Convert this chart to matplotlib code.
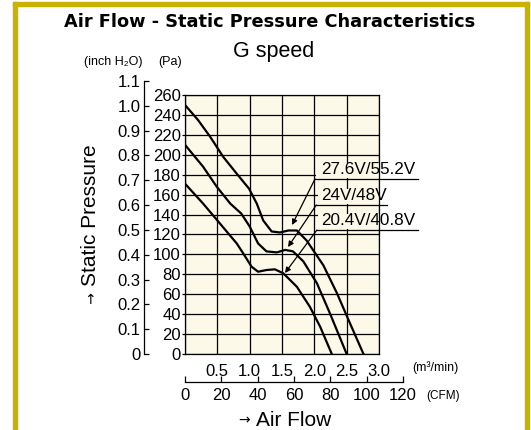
import numpy as np
import matplotlib
matplotlib.use('Agg')
import matplotlib.pyplot as plt
from matplotlib.patches import Rectangle

plt.rcParams['font.family'] = ['Liberation Sans', 'DejaVu Sans']

W, H = 531, 430

# air flow (m3/min) against static pressure (Pa)
flow_276 = [0, 0.20, 0.39, 0.59, 0.80, 0.99, 1.11, 1.21, 1.34, 1.47, 1.60, 1.73, 1.88, 2.14, 2.35, 2.55, 2.76]
pres_276 = [250, 235, 218, 198, 181, 166, 151, 134, 123, 122, 124, 124, 114, 89, 61, 31, 0]

flow_24 = [0, 0.14, 0.28, 0.49, 0.70, 0.87, 1.00, 1.13, 1.26, 1.42, 1.55, 1.67, 1.83, 2.04, 2.24, 2.50]
pres_24 = [210, 199, 188, 168, 151, 141, 128, 111, 103, 102, 104.5, 103, 93, 71, 41, 0]

flow_204 = [0, 0.14, 0.28, 0.54, 0.80, 0.90, 1.03, 1.13, 1.26, 1.39, 1.52, 1.73, 1.93, 2.09, 2.27]
pres_204 = [171, 161, 151, 131, 111, 101, 87.6, 82.6, 84.3, 85, 81, 67.5, 47.5, 27.4, 0]

labels = ['27.6V/55.2V', '24V/48V', '20.4V/40.8V']

flow_ticks = [0, 0.5, 1.0, 1.5, 2.0, 2.5, 3.0]
pa_ticks = list(range(0, 261, 20))
inch_ticks = [0, 0.1, 0.2, 0.3, 0.4, 0.5, 0.6, 0.7, 0.8, 0.9, 1.0, 1.1]
cfm_ticks = [0, 20, 40, 60, 80, 100, 120]


def fx(px):
    return px / W


def fy(py):
    return 1 - py / H


fig = plt.figure(figsize=(W / 100, H / 100), dpi=100)

# gold frame
gold = '#c8b400'
fig.patches.append(Rectangle((fx(13), 0), 4 / W, fy(2), color=gold, transform=fig.transFigure))
fig.patches.append(Rectangle((fx(525), 0), 4 / W, fy(2), color=gold, transform=fig.transFigure))
fig.patches.append(Rectangle((fx(13), fy(6)), 516 / W, 4 / H, color=gold, transform=fig.transFigure))

# main plot
cream = '#fdf9e8'
ax = fig.add_axes([fx(185), fy(354), 194 / W, 259 / H])
ax.set_facecolor(cream)
ax.set_xlim(0, 3.0)
ax.set_ylim(0, 260)
ax.set_xticks(flow_ticks)
ax.set_xticklabels([''] + [f'{v:.1f}' for v in flow_ticks[1:]])
ax.set_yticks(pa_ticks)
ax.grid(color='black', lw=0.9)
ax.set_axisbelow(True)
ax.tick_params(axis='x', length=0, pad=7, labelsize=12)
ax.tick_params(axis='y', length=2.5, width=0.9, pad=0.5, labelsize=12)
for s in ax.spines.values():
    s.set_linewidth(0.9)

for fl, pr in [(flow_276, pres_276), (flow_24, pres_24), (flow_204, pres_204)]:
    ax.plot(fl, pr, color='black', lw=1.6, solid_joinstyle='round', zorder=3)

# callouts: (arrow tip, line start, underline end)
callouts = [((1.655, 129.5), (2.01, 175.7), 3.60),
            ((1.593, 107.4), (2.03, 149.6), 3.12),
            ((1.546, 81.3), (2.04, 124.5), 3.60)]
for lab, (tip, start, x_end) in zip(labels, callouts):
    ax.add_patch(Rectangle((start[0] + 0.02, start[1] + 0.5), 1.2, 16,
                           facecolor=cream, edgecolor='none', zorder=1.5))
    ax.plot([start[0], x_end], [start[1], start[1]], color='black', lw=0.9, clip_on=False, zorder=3)
    ax.annotate('', xy=tip, xytext=start,
                arrowprops=dict(arrowstyle='-|>', color='black', lw=0.9, mutation_scale=8,
                                shrinkA=0, shrinkB=0), annotation_clip=False)
    ax.text(2.10, start[1] + 1.5, lab, fontsize=12.3, ha='left', va='bottom', clip_on=False, zorder=4)

# inch H2O axis
ax2 = fig.add_axes([fx(143.5), fy(354), 1 / W, 273 / H])
ax2.set_facecolor('none')
ax2.set_ylim(0, 1.1)
ax2.set_xticks([])
ax2.set_yticks(inch_ticks)
ax2.set_yticklabels(['0'] + [f'{v:.1f}' for v in inch_ticks[1:]])
ax2.tick_params(axis='y', direction='in', length=3.5, width=0.9, pad=2, labelsize=12)
for k in ['right', 'top', 'bottom']:
    ax2.spines[k].set_visible(False)
ax2.spines['left'].set_linewidth(0.9)

# CFM axis
ax3 = fig.add_axes([fx(185), fy(382), 218 / W, 1 / H])
ax3.set_facecolor('none')
ax3.set_xlim(0, 120)
ax3.set_yticks([])
ax3.set_xticks(cfm_ticks)
ax3.tick_params(axis='x', direction='in', length=4, width=0.9, pad=4, labelsize=12)
for k in ['left', 'right', 'top']:
    ax3.spines[k].set_visible(False)
ax3.spines['bottom'].set_linewidth(0.9)

# texts
fig.text(fx(270), fy(22), 'Air Flow - Static Pressure Characteristics', ha='center', va='center',
         fontsize=12.8, weight='bold', family='DejaVu Sans')
fig.text(fx(274), fy(52), 'G speed', ha='center', va='center', fontsize=15.5)
fig.text(fx(113), fy(62), '(inch H\u2082O)', ha='center', va='center', fontsize=9)
fig.text(fx(170), fy(62), '(Pa)', ha='center', va='center', fontsize=9)
fig.text(fx(91), fy(215), 'Static Pressure', rotation=90, ha='center', va='center', fontsize=15)
fig.text(fx(90), fy(300), '\u2191', ha='center', va='center', fontsize=10, family='DejaVu Sans')
fig.text(fx(244), fy(420), '\u2192', ha='center', va='center', fontsize=10, family='DejaVu Sans')
fig.text(fx(256), fy(420), 'Air Flow', ha='left', va='center', fontsize=15)
fig.text(fx(435), fy(368), '(m\u00b3/min)', ha='center', va='center', fontsize=9)
fig.text(fx(443), fy(396), '(CFM)', ha='center', va='center', fontsize=8.5)

fig.savefig('out.png', dpi=100)
